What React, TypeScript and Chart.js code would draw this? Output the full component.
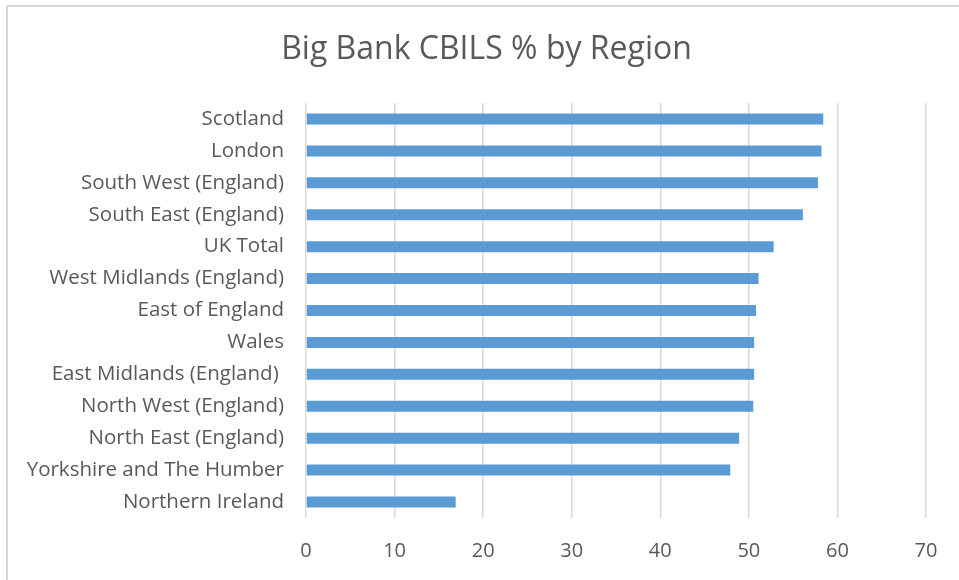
import React, { useEffect, useRef } from "react";
import { Chart, registerables } from "chart.js";

Chart.register(...registerables);

const categories = [
  "Scotland",
  "London",
  "South West (England)",
  "South East (England)",
  "UK Total",
  "West Midlands (England)",
  "East of England",
  "Wales",
  "East Midlands (England) ",
  "North West (England)",
  "North East (England)",
  "Yorkshire and The Humber",
  "Northern Ireland",
];

const values = [58.4, 58.2, 57.8, 56.1, 52.8, 51.1, 50.8, 50.6, 50.6, 50.5, 48.9, 47.9, 16.9];

const xTicks = [0, 10, 20, 30, 40, 50, 60, 70];

const FONT = "'Open Sans', sans-serif";

export default function App() {
  const ref = useRef<HTMLCanvasElement | null>(null);

  useEffect(() => {
    document.body.style.margin = "0";
    const ctx = ref.current;
    if (!ctx) return;
    const chart = new Chart(ctx, {
      type: "bar",
      data: {
        labels: categories,
        datasets: [
          {
            data: values,
            backgroundColor: "#5b9bd5",
            borderWidth: 0,
            categoryPercentage: 0.5,
            barPercentage: 0.69,
          },
        ],
      },
      options: {
        indexAxis: "y",
        animation: false,
        responsive: false,
        maintainAspectRatio: false,
        layout: { padding: { left: 14, right: 0, top: 0, bottom: 0 } },
        plugins: {
          legend: { display: false },
          tooltip: { enabled: false },
          title: {
            display: true,
            text: "Big Bank CBILS % by Region",
            color: "#595959",
            font: { family: FONT, size: 32, weight: "normal" },
            padding: { top: 31, bottom: 33.6 },
          },
        },
        scales: {
          x: {
            min: 0,
            max: 70,
            afterBuildTicks: (axis: any) => {
              axis.ticks = xTicks.map((v) => ({ value: v }));
            },
            grid: { color: "#d9d9d9", lineWidth: 1.5, drawTicks: false },
            border: { display: false },
            ticks: {
              color: "#595959",
              font: { family: FONT, size: 20 },
              padding: 21,
            },
            afterFit: (axis: any) => {
              axis.height = 62;
            },
          },
          y: {
            grid: { display: false, drawTicks: false },
            border: { display: false },
            ticks: {
              color: "#595959",
              font: { family: FONT, size: 20.5 },
              padding: 22,
            },
            afterFit: (axis: any) => {
              axis.width = 292;
            },
          },
          yRight: {
            type: "category",
            position: "right",
            labels: categories,
            grid: { display: false, drawTicks: false },
            border: { display: false },
            ticks: { display: false },
            afterFit: (axis: any) => {
              axis.width = 33;
            },
          },
        },
      },
    });
    return () => chart.destroy();
  }, []);

  return (
    <div style={{ position: "relative", width: 959, height: 580, background: "#fff" }}>
      <div
        style={{
          position: "absolute",
          left: 6,
          top: 5,
          right: 0,
          bottom: 0,
          borderLeft: "2px solid #d9d9d9",
          borderTop: "2px solid #d9d9d9",
          pointerEvents: "none",
        }}
      />
      <canvas ref={ref} width={959} height={580} style={{ position: "absolute", left: 0, top: 0 }} />
    </div>
  );
}
